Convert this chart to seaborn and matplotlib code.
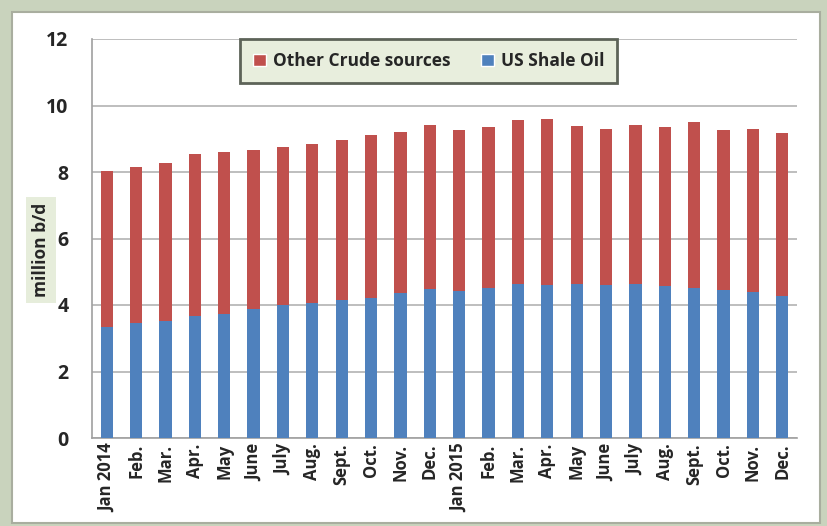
import pandas as pd
import numpy as np
import matplotlib
matplotlib.use("Agg")
import matplotlib.pyplot as plt
import seaborn as sns
from matplotlib.patches import Patch, FancyBboxPatch
from matplotlib.ticker import FixedLocator

# Data (million b/d)
months = ["Jan 2014", "Feb.", "Mar.", "Apr.", "May", "June", "July", "Aug.",
          "Sept.", "Oct.", "Nov.", "Dec.",
          "Jan 2015", "Feb.", "Mar.", "Apr.", "May", "June", "July", "Aug.",
          "Sept.", "Oct.", "Nov.", "Dec."]
shale_oil = [3.35, 3.45, 3.52, 3.67, 3.74, 3.87, 3.99, 4.06, 4.14, 4.22, 4.35, 4.48,
             4.41, 4.50, 4.64, 4.60, 4.63, 4.61, 4.62, 4.58, 4.52, 4.45, 4.39, 4.28]
other_crude = [4.67, 4.69, 4.74, 4.88, 4.87, 4.79, 4.76, 4.77, 4.81, 4.90, 4.84, 4.93,
               4.85, 4.84, 4.92, 5.00, 4.76, 4.68, 4.80, 4.78, 4.99, 4.80, 4.90, 4.89]

red = "#c0504d"
blue = "#4f81bd"

sns.set_style("white")
plt.rcParams['font.family'] = ['Open Sans', 'DejaVu Sans']
plt.rcParams['font.weight'] = 'bold'

df = pd.DataFrame({
    "pos": range(len(months)),
    "shale": shale_oil,
    "other": other_crude,
})
df["total"] = df["shale"] + df["other"]

fig = plt.figure(figsize=(8.27, 5.26), dpi=100)
fig.patch.set_facecolor("#c9d3bd")

# white panel behind the chart
fig.patches.append(FancyBboxPatch((14 / 827, 4 / 526), 806 / 827, 508 / 526,
                                  boxstyle="square,pad=0", transform=fig.transFigure,
                                  facecolor="#7d8577", edgecolor="none", zorder=-2))
fig.patches.append(FancyBboxPatch((12 / 827, 3 / 526), 808 / 827, 511 / 526,
                                  boxstyle="square,pad=0", transform=fig.transFigure,
                                  facecolor="white", edgecolor="#a9ae9f", linewidth=1.5,
                                  zorder=-1))

ax = fig.add_axes([92 / 827, 88 / 526, 705 / 827, 399 / 526])
ax.set_facecolor("none")

sns.barplot(data=df, x="pos", y="total", color=red, width=0.42, saturation=1,
            ax=ax, zorder=3)
sns.barplot(data=df, x="pos", y="shale", color=blue, width=0.42, saturation=1,
            ax=ax, zorder=3)
for p in ax.patches:
    p.set_edgecolor("none")

ax.set_ylim(0, 12)
ax.set_xlim(-0.5, len(months) - 0.5)
ax.set_yticks(np.arange(0, 13, 2))
ax.set_yticklabels([str(v) for v in range(0, 13, 2)], fontsize=14, fontweight="bold")
ax.set_xticks(range(len(months)))
ax.set_xticklabels(months, rotation=90, fontsize=12, fontweight="bold")
ax.xaxis.set_minor_locator(FixedLocator(np.arange(-0.5, len(months), 1)))
ax.tick_params(axis="x", which="major", length=0, pad=4)
ax.tick_params(axis="x", which="minor", length=5, color="#a0a0a0", width=1)
ax.tick_params(axis="y", length=5, color="#a0a0a0", width=1, pad=12)

ax.grid(axis="y", color="#b3b3b3", linewidth=1.2, zorder=0)
ax.set_axisbelow(True)
for side in ["top", "right"]:
    ax.spines[side].set_visible(False)
for side in ["left", "bottom"]:
    ax.spines[side].set_color("#a0a0a0")
    ax.spines[side].set_linewidth(1.2)

ax.set_xlabel("")
ax.set_ylabel("")
fig.text(41 / 827, 1 - 250 / 526, "million b/d", rotation=90, fontsize=12.5,
         fontweight="bold", ha="center", va="center",
         bbox=dict(boxstyle="square,pad=0.35", facecolor="#e6eddb", edgecolor="none"))

handles = [Patch(facecolor=red, label="Other Crude sources"),
           Patch(facecolor=blue, label="US Shale Oil")]
leg = ax.legend(handles=handles, ncol=2, loc="upper left",
                bbox_to_anchor=(0.21, 0.889, 0.535, 0.111), mode="expand",
                borderaxespad=0, frameon=True, fancybox=False, shadow=False,
                fontsize=12.5, handlelength=0.75, handleheight=0.75, handletextpad=0.4,
                columnspacing=2.0, borderpad=0.75)
leg.get_frame().set_facecolor("#e8eedd")
leg.get_frame().set_edgecolor("#5d6358")
leg.get_frame().set_linewidth(2)
leg.get_frame().set_alpha(1)
for t in leg.get_texts():
    t.set_fontweight("bold")

fig.savefig("out.png", dpi=100, facecolor=fig.get_facecolor())
